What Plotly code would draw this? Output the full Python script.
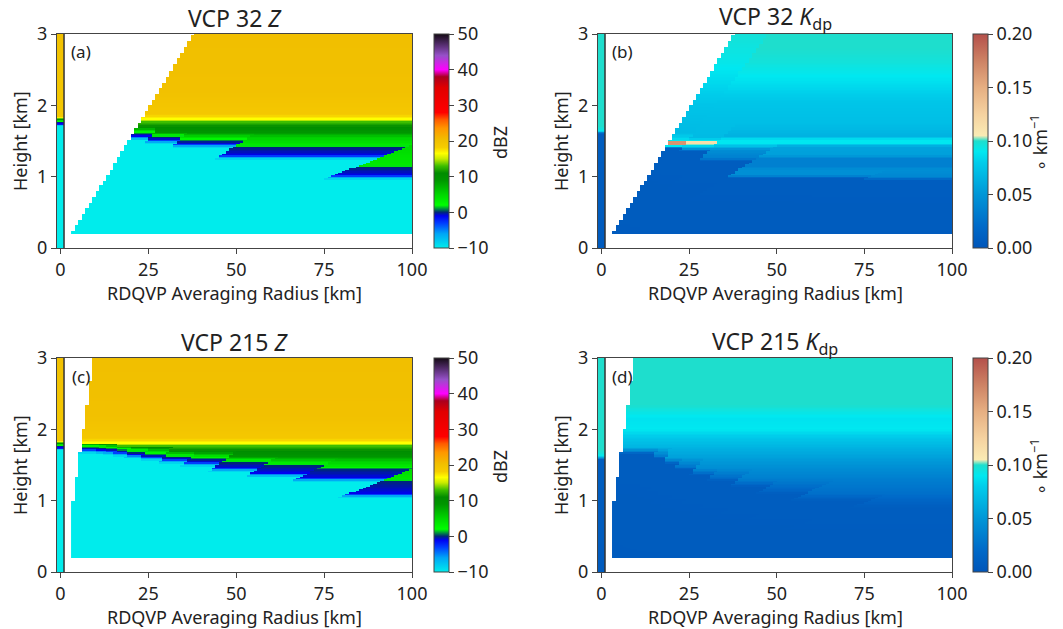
import numpy as np
import plotly.graph_objects as go

# ---------------- data ----------------
# Elevation angles of the two volume coverage patterns (deg)
ELEV_32 = [0.5, 1.5, 2.5, 3.5, 4.5]
ELEV_215 = [0.5, 0.9, 1.3, 1.8, 2.4, 3.1, 4.0, 5.1, 6.4, 8.0, 10.0, 12.5, 15.6, 19.5]

# Z: melting-layer bottom (cyan->blue) and blue-top heights (km) per elevation
Z32_ML_BOTTOM = [1.00, 1.28, 1.44, 1.50, 1.55]
Z32_ML_BLUETOP = [1.13, 1.41, 1.50, 1.55, 1.60]
Z215_ML_BOTTOM = [1.08, 1.30, 1.37, 1.44, 1.52, 1.56, 1.60, 1.63, 1.66, 1.68, 1.69, 1.70, 1.70, 1.70]
Z215_ML_BLUETOP = [1.27, 1.44, 1.49, 1.53, 1.58, 1.61, 1.64, 1.67, 1.70, 1.72, 1.73, 1.74, 1.74, 1.74]

# Z common upper profile (height km, dBZ)
Z_UPPER_H = [1.55, 1.62, 1.70, 1.77, 1.81, 1.88, 2.20, 3.00]
Z_UPPER_V = [5.5, 9.0, 11.0, 13.0, 16.5, 19.0, 20.0, 20.3]

# Z at r = 0 (QVP strip)
Z_QVP_H = [0.0, 1.71, 1.73, 1.76, 1.78, 1.80, 1.83, 3.0]
Z_QVP_V = [-10, -10, -2, 0, 3, 8, 19, 20]

# Kdp VCP 32 per-elevation profiles (height km, deg/km)
KDP32_H = [
    [0.0, 0.95, 1.00, 1.10, 1.15, 1.25, 1.30, 1.42, 1.47, 1.52, 1.57, 1.75, 2.05, 2.35, 2.60, 2.80, 3.0],
    [0.0, 0.98, 1.02, 1.10, 1.15, 1.25, 1.30, 1.42, 1.47, 1.52, 1.57, 1.75, 2.05, 2.35, 2.60, 2.80, 3.0],
    [0.0, 1.22, 1.26, 1.38, 1.42, 1.47, 1.52, 1.57, 1.75, 2.05, 2.35, 2.60, 2.80, 3.0],
    [0.0, 1.36, 1.40, 1.44, 1.46, 1.49, 1.51, 1.55, 1.75, 2.05, 2.35, 2.60, 2.80, 3.0],
    [0.0, 1.40, 1.43, 1.45, 1.49, 1.51, 1.55, 1.62, 2.00, 2.30, 2.60, 3.0],
]
KDP32_V = [
    [0.006, 0.008, 0.040, 0.045, 0.035, 0.035, 0.055, 0.058, 0.090, 0.090, 0.065, 0.072, 0.076, 0.088, 0.096, 0.100, 0.100],
    [0.006, 0.008, 0.045, 0.045, 0.035, 0.035, 0.055, 0.058, 0.090, 0.090, 0.065, 0.072, 0.076, 0.088, 0.096, 0.100, 0.100],
    [0.006, 0.008, 0.035, 0.045, 0.070, 0.090, 0.090, 0.065, 0.072, 0.076, 0.088, 0.096, 0.100, 0.100],
    [0.006, 0.008, 0.060, 0.090, 0.115, 0.115, 0.090, 0.070, 0.072, 0.076, 0.088, 0.096, 0.100, 0.100],
    [0.006, 0.008, 0.090, 0.165, 0.165, 0.090, 0.080, 0.070, 0.075, 0.084, 0.092, 0.097],
]
KDP32_QVP_H = [0.0, 1.60, 1.64, 1.70, 3.0]
KDP32_QVP_V = [0.006, 0.008, 0.090, 0.100, 0.100]

# Kdp VCP 215: top of the near-zero layer per elevation, plus common profile above it
KDP215_DARK_TOP = [0.90, 1.00, 1.10, 1.20, 1.28, 1.36, 1.44, 1.52, 1.60, 1.66, 1.66, 1.66, 1.66, 1.66]
KDP215_UPPER_H = [0.90, 1.10, 1.30, 1.45, 1.60, 1.75, 1.90, 2.00, 2.15, 2.35, 3.00]
KDP215_UPPER_V = [0.015, 0.024, 0.034, 0.044, 0.055, 0.066, 0.079, 0.090, 0.088, 0.100, 0.100]
KDP215_QVP_H = [0.0, 1.58, 1.62, 1.70, 3.0]
KDP215_QVP_V = [0.006, 0.008, 0.090, 0.100, 0.100]

X_TICKS = [0, 25, 50, 75, 100]
Y_TICKS = [0, 1, 2, 3]
Z_TICKS = [-10, 0, 10, 20, 30, 40, 50]
KDP_TICKS = [0.0, 0.05, 0.10, 0.15, 0.20]

# ---------------- grid / geometry ----------------
R_EDGES = np.arange(3.0, 101.0, 1.0)
H_EDGES = np.round(np.arange(0.2, 3.0001, 0.02), 3)
R_LEFT = R_EDGES[:-1]
H_CEN = 0.5 * (H_EDGES[:-1] + H_EDGES[1:])


def beam_height(r, el):
    return r * np.sin(np.radians(el)) + r ** 2 / (2 * 8500.0)


def z_knots(b, t):
    hs = [0.0, b - 0.04, b, b + 0.02, t, t + 0.04]
    vs = [-10, -10, -5, -1, 0, 3.5]
    for h, v in zip(Z_UPPER_H, Z_UPPER_V):
        if h > t + 0.06:
            hs.append(h)
            vs.append(v)
    return hs, vs


def kdp215_knots(d):
    up = float(np.interp(d + 0.03, KDP215_UPPER_H, KDP215_UPPER_V))
    hs = [0.0, d, d + 0.03]
    vs = [0.006, 0.008, 0.6 * up]
    for h, v in zip(KDP215_UPPER_H, KDP215_UPPER_V):
        if h > d + 0.06:
            hs.append(h)
            vs.append(v)
    return hs, vs


def build_field(elevs, knots):
    prof = np.array([np.interp(H_CEN, kh, kv) for kh, kv in knots])
    tops = np.array([beam_height(R_LEFT, e) for e in elevs])
    out = np.full((len(H_CEN), len(R_LEFT)), np.nan)
    for j in range(len(R_LEFT)):
        for i, h in enumerate(H_CEN):
            ok = np.where(tops[:, j] >= h)[0]
            if len(ok):
                out[i, j] = prof[ok[0], i]
    return out


Z32 = build_field(ELEV_32, [z_knots(b, t) for b, t in zip(Z32_ML_BOTTOM, Z32_ML_BLUETOP)])
Z215 = build_field(ELEV_215, [z_knots(b, t) for b, t in zip(Z215_ML_BOTTOM, Z215_ML_BLUETOP)])
K32 = build_field(ELEV_32, list(zip(KDP32_H, KDP32_V)))
K215 = build_field(ELEV_215, [kdp215_knots(d) for d in KDP215_DARK_TOP])

QVP_H_EDGES = np.round(np.arange(0.0, 3.0001, 0.01), 3)
QVP_H_CEN = 0.5 * (QVP_H_EDGES[:-1] + QVP_H_EDGES[1:])
Z_QVP = np.interp(QVP_H_CEN, Z_QVP_H, Z_QVP_V)[:, None]
K32_QVP = np.interp(QVP_H_CEN, KDP32_QVP_H, KDP32_QVP_V)[:, None]
K215_QVP = np.interp(QVP_H_CEN, KDP215_QVP_H, KDP215_QVP_V)[:, None]

# ---------------- colour scales ----------------
Z_CS = [
    [0.000, "rgb(0,236,236)"], [0.067, "rgb(0,165,246)"], [0.117, "rgb(0,60,255)"],
    [0.150, "rgb(0,0,240)"], [0.167, "rgb(0,40,120)"], [0.200, "rgb(0,255,0)"],
    [0.250, "rgb(0,215,0)"], [0.317, "rgb(0,150,0)"], [0.350, "rgb(0,140,0)"],
    [0.383, "rgb(60,190,0)"], [0.417, "rgb(200,235,0)"], [0.442, "rgb(255,255,0)"],
    [0.470, "rgb(246,205,0)"], [0.505, "rgb(241,191,0)"], [0.560, "rgb(255,150,0)"],
    [0.600, "rgb(255,90,0)"], [0.633, "rgb(255,0,0)"], [0.750, "rgb(225,0,0)"],
    [0.800, "rgb(170,0,30)"], [0.833, "rgb(255,0,255)"], [0.900, "rgb(150,80,200)"],
    [1.000, "rgb(20,10,20)"],
]
K_CS = [
    [0.000, "rgb(0,85,185)"], [0.100, "rgb(0,105,200)"], [0.250, "rgb(0,150,215)"],
    [0.400, "rgb(0,205,235)"], [0.450, "rgb(0,232,240)"], [0.500, "rgb(30,222,205)"],
    [0.525, "rgb(250,235,180)"], [0.625, "rgb(245,210,160)"], [0.750, "rgb(230,175,130)"],
    [0.875, "rgb(205,130,100)"], [1.000, "rgb(180,80,75)"],
]

W, H = 1063, 629
FONT = "Noto Sans"
TXT = "#222222"

panels = [
    ("1", Z32, Z_QVP, Z_CS, -10, 50, Z_TICKS, "d", "VCP 32 <i>Z</i>", "dBZ", "(a)", (57, 412), (34, 248), 434),
    ("2", K32, K32_QVP, K_CS, 0, 0.2, KDP_TICKS, ".2f", "VCP 32 <i>K</i><sub>dp</sub>", "∘ km<sup>−1</sup>", "(b)", (598, 952), (34, 248), 973),
    ("3", Z215, Z_QVP, Z_CS, -10, 50, Z_TICKS, "d", "VCP 215 <i>Z</i>", "dBZ", "(c)", (57, 412), (358, 572), 434),
    ("4", K215, K215_QVP, K_CS, 0, 0.2, KDP_TICKS, ".2f", "VCP 215 <i>K</i><sub>dp</sub>", "∘ km<sup>−1</sup>", "(d)", (598, 952), (358, 572), 973),
]

fig = go.Figure()
annotations = []
shapes = []
layout_axes = {}

for key, data, qvp, cs, zmin, zmax, ticks, fmt, title, cbtitle, label, (pl, pr), (pt, pb), cbx in panels:
    xa = "x" if key == "1" else "x" + key
    ya = "y" if key == "1" else "y" + key
    xname = "xaxis" if key == "1" else "xaxis" + key
    yname = "yaxis" if key == "1" else "yaxis" + key
    xdom = [pl / W, pr / W]
    ydom = [1 - pb / H, 1 - pt / H]

    fig.add_trace(go.Heatmap(
        x=R_EDGES, y=H_EDGES, z=data, colorscale=cs, zmin=zmin, zmax=zmax,
        xaxis=xa, yaxis=ya, hoverinfo="skip",
        colorbar=dict(
            x=cbx / W, xanchor="left", y=(ydom[0] + ydom[1]) / 2, yanchor="middle",
            len=(pb - pt) / H, lenmode="fraction", thickness=15, thicknessmode="pixels",
            outlinewidth=1, outlinecolor="#444", tickvals=ticks, tickformat=fmt,
            ticks="outside", ticklen=5, tickcolor="#444",
            tickfont=dict(family=FONT, size=18, color=TXT), xpad=0, ypad=0,
        ),
    ))
    fig.add_trace(go.Heatmap(
        x=[-1, 1], y=QVP_H_EDGES, z=qvp, colorscale=cs, zmin=zmin, zmax=zmax,
        showscale=False, xaxis=xa, yaxis=ya, hoverinfo="skip",
    ))

    layout_axes[xname] = dict(
        domain=xdom, range=[-1, 100], tickvals=X_TICKS, showgrid=False, zeroline=False,
        showline=True, mirror=True, linecolor="#444", linewidth=1, ticks="outside",
        ticklen=5, tickcolor="#444", tickfont=dict(family=FONT, size=18, color=TXT),
        anchor=ya, automargin=False,
    )
    layout_axes[yname] = dict(
        domain=ydom, range=[0, 3], tickvals=Y_TICKS, showgrid=False, zeroline=False,
        showline=True, mirror=True, linecolor="#444", linewidth=1, ticks="outside",
        ticklen=5, tickcolor="#444", tickfont=dict(family=FONT, size=18, color=TXT),
        anchor=xa, automargin=False,
    )

    shapes.append(dict(type="line", xref=xa, yref=ya + " domain", x0=1, x1=1, y0=0, y1=1,
                       line=dict(color="#333", width=1.5)))

    cx = (pl + pr) / 2
    annotations += [
        dict(text=title, x=cx / W, y=1 - (pt - 16) / H, xref="paper", yref="paper",
             showarrow=False, font=dict(family=FONT, size=23, color=TXT), xanchor="center", yanchor="middle"),
        dict(text="RDQVP Averaging Radius [km]", x=cx / W, y=1 - (pb + 45) / H,
             xref="paper", yref="paper", showarrow=False, font=dict(family=FONT, size=18, color=TXT),
             xanchor="center", yanchor="middle"),
        dict(text="Height [km]", x=(pl - 37) / W, y=1 - (pt + pb) / 2 / H, xref="paper", yref="paper",
             showarrow=False, textangle=-90, font=dict(family=FONT, size=18, color=TXT),
             xanchor="center", yanchor="middle"),
        dict(text=cbtitle, x=(cbx + 66) / W, y=1 - ((pt + pb) / 2 + 2) / H, xref="paper", yref="paper",
             showarrow=False, textangle=-90, font=dict(family=FONT, size=18, color=TXT),
             xanchor="center", yanchor="middle"),
        dict(text=label, x=(pl + 24) / W, y=1 - (pt + 18) / H, xref="paper", yref="paper",
             showarrow=False, font=dict(family=FONT, size=17, color=TXT),
             xanchor="center", yanchor="middle"),
    ]

fig.update_layout(
    width=W, height=H, margin=dict(l=0, r=0, t=0, b=0, autoexpand=False),
    paper_bgcolor="white", plot_bgcolor="white",
    annotations=annotations, shapes=shapes, showlegend=False,
    **layout_axes,
)

fig.write_html(
    "out.html",
    config={"displayModeBar": False},
    post_script="document.body.style.margin='0px';document.body.style.overflow='hidden';",
)
